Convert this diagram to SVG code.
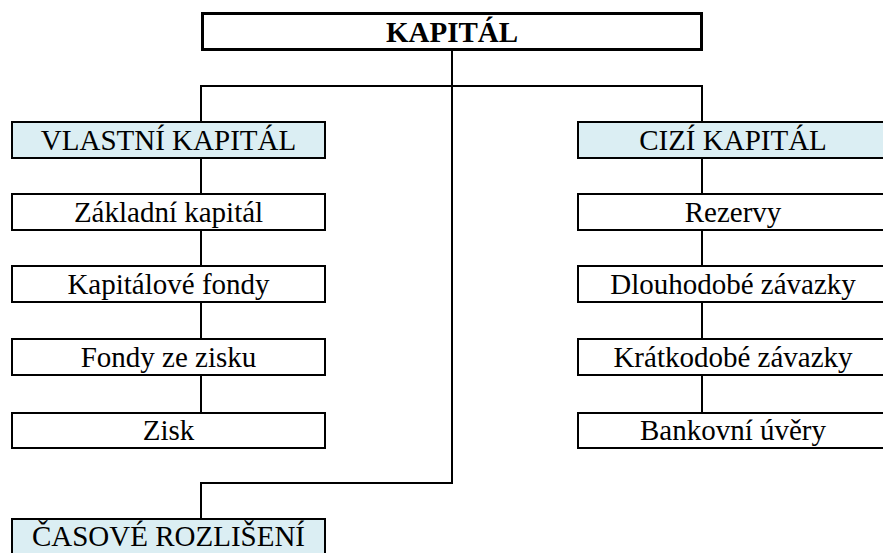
<svg xmlns="http://www.w3.org/2000/svg" width="883" height="553" viewBox="0 0 883 553">
<rect width="883" height="553" fill="#ffffff"/>
<g id="connectors" fill="none" stroke="#000000" stroke-width="2">
<path d="M452 51 V483 H201 V519"/>
<path d="M201 122 V86 H702 V122"/>
<path d="M201 158 V194 M201 231 V266 M201 303 V339 M201 376 V413"/>
<path d="M702 158 V194 M702 231 V266 M702 303 V339 M702 376 V413"/>
</g>
<g id="kapital"><rect x="202.5" y="13.5" width="499" height="36" fill="#ffffff" stroke="#000000" stroke-width="3"/><text font-family="Liberation Serif" font-size="29" font-weight="bold" text-anchor="middle" x="452" y="42">KAPITÁL</text></g>
<g id="vlastni"><rect x="12" y="122" width="313" height="36" fill="#DBEEF3" stroke="#000000" stroke-width="2"/><text font-family="Liberation Serif" font-size="29" text-anchor="middle" x="168.5" y="150">VLASTNÍ KAPITÁL</text></g>
<g id="zakladni"><rect x="12" y="194" width="313" height="36" fill="#ffffff" stroke="#000000" stroke-width="2"/><text font-family="Liberation Serif" font-size="29" text-anchor="middle" x="168.5" y="222">Základní kapitál</text></g>
<g id="kapitalove"><rect x="12" y="266" width="313" height="36" fill="#ffffff" stroke="#000000" stroke-width="2"/><text font-family="Liberation Serif" font-size="29" text-anchor="middle" x="168.5" y="294">Kapitálové fondy</text></g>
<g id="fondy"><rect x="12" y="339" width="313" height="36" fill="#ffffff" stroke="#000000" stroke-width="2"/><text font-family="Liberation Serif" font-size="29" text-anchor="middle" x="168.5" y="367">Fondy ze zisku</text></g>
<g id="zisk"><rect x="12" y="413" width="313" height="35" fill="#ffffff" stroke="#000000" stroke-width="2"/><text font-family="Liberation Serif" font-size="29" text-anchor="middle" x="168.5" y="440">Zisk</text></g>
<g id="casove"><rect x="12" y="519" width="313" height="50" fill="#DBEEF3" stroke="#000000" stroke-width="2"/><text font-family="Liberation Serif" font-size="29" text-anchor="middle" x="168.5" y="546">ČASOVÉ ROZLIŠENÍ</text></g>
<g id="cizi"><rect x="578" y="122" width="320" height="36" fill="#DBEEF3" stroke="#000000" stroke-width="2"/><text font-family="Liberation Serif" font-size="29" text-anchor="middle" x="733" y="150">CIZÍ KAPITÁL</text></g>
<g id="rezervy"><rect x="578" y="194" width="320" height="36" fill="#ffffff" stroke="#000000" stroke-width="2"/><text font-family="Liberation Serif" font-size="29" text-anchor="middle" x="733" y="222">Rezervy</text></g>
<g id="dlouhodobe"><rect x="578" y="266" width="320" height="36" fill="#ffffff" stroke="#000000" stroke-width="2"/><text font-family="Liberation Serif" font-size="29" text-anchor="middle" x="733" y="294">Dlouhodobé závazky</text></g>
<g id="kratkodobe"><rect x="578" y="339" width="320" height="36" fill="#ffffff" stroke="#000000" stroke-width="2"/><text font-family="Liberation Serif" font-size="29" text-anchor="middle" x="733" y="367">Krátkodobé závazky</text></g>
<g id="bankovni"><rect x="578" y="413" width="320" height="35" fill="#ffffff" stroke="#000000" stroke-width="2"/><text font-family="Liberation Serif" font-size="29" text-anchor="middle" x="733" y="440">Bankovní úvěry</text></g>
</svg>
